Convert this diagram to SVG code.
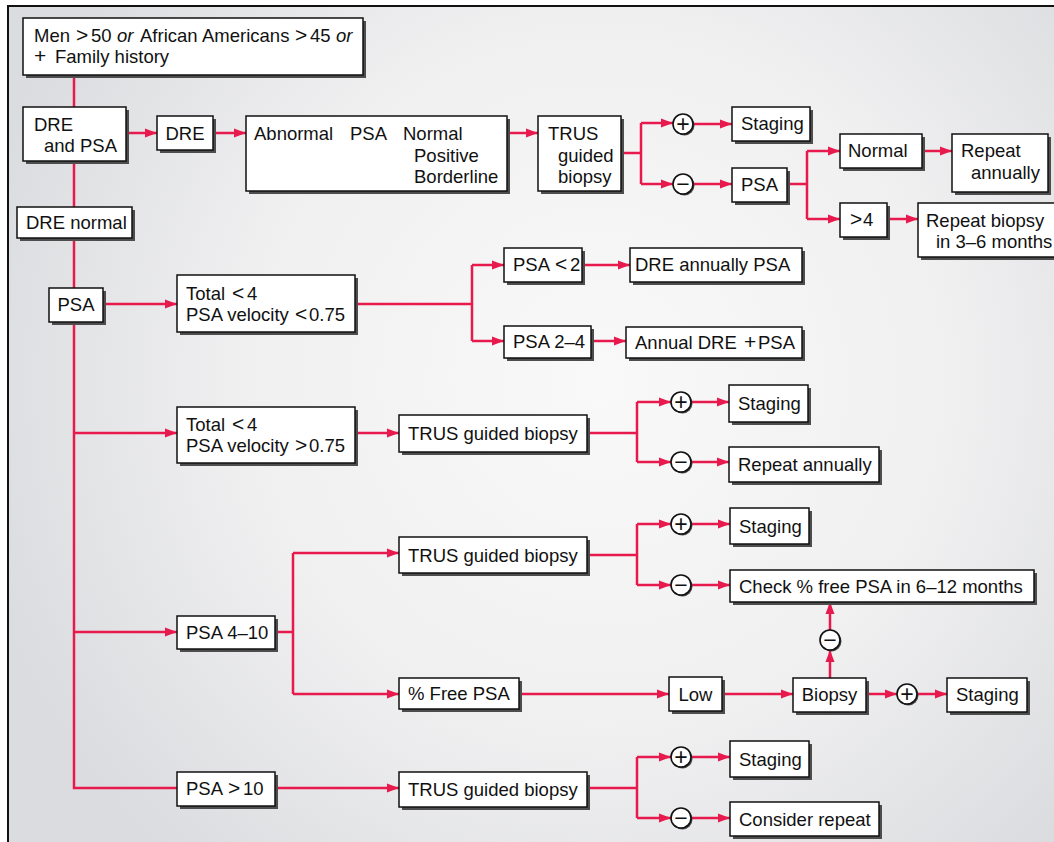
<svg xmlns="http://www.w3.org/2000/svg" width="1054" height="842" viewBox="0 0 1054 842">
  <defs>
    <radialGradient id="bg" gradientUnits="userSpaceOnUse" cx="600" cy="380" r="640">
      <stop offset="0" stop-color="#f9f9fa"/>
      <stop offset="0.55" stop-color="#f0f0f1"/>
      <stop offset="1" stop-color="#dbdcdf"/>
    </radialGradient>
    <marker id="ah" markerWidth="12" markerHeight="10" refX="12" refY="5" orient="auto" markerUnits="userSpaceOnUse">
      <path d="M0,0.5 L12,5 L0,9.5 z" fill="#e8194c"/>
    </marker>
    <style>
      .sh { fill: #4d4d4d; }
      .bx { fill: #ffffff; stroke: #111111; stroke-width: 1.5; }
      text { font-family: "Liberation Sans", Arial, Helvetica, sans-serif; font-size: 18.5px; fill: #111111; }
      .c { text-anchor: middle; }
      .it { font-style: italic; }
      .m { font-size: 21px; }
      .sg { font-size: 23px; text-anchor: middle; }
      .csh { fill: #4d4d4d; }
      .cir { fill: #ffffff; stroke: #111111; stroke-width: 1.6; }
      #connectors path { fill: none; stroke: #e8194c; stroke-width: 2.5; }
      #connectors .a { marker-end: url(#ah); }
    </style>
  </defs>

  <!-- panel -->
  <rect x="8" y="6" width="1070" height="860" fill="url(#bg)" stroke="#111111" stroke-width="2"/>

  <!-- connectors -->
  <g id="connectors">
    <path d="M74,75 V788 H177"/>
    <path class="a" d="M126,133 H157"/>
    <path class="a" d="M213,133 H246"/>
    <path class="a" d="M507,133 H538"/>
    <path d="M621,153 H641 M641,123 V184"/>
    <path class="a" d="M641,123 H673"/>
    <path class="a" d="M641,184 H673"/>
    <path class="a" d="M693,124 H732"/>
    <path class="a" d="M693,184 H732"/>
    <path d="M787,184 H807 M807,151 V219"/>
    <path class="a" d="M807,151 H840"/>
    <path class="a" d="M807,219 H840"/>
    <path class="a" d="M922,151 H952"/>
    <path class="a" d="M887,219 H918"/>

    <path class="a" d="M103,304 H177"/>
    <path d="M355,304 H472 M472,265 V341"/>
    <path class="a" d="M472,265 H504"/>
    <path class="a" d="M472,341 H504"/>
    <path class="a" d="M582,265 H630"/>
    <path class="a" d="M591,341 H626"/>

    <path class="a" d="M74,433 H177"/>
    <path class="a" d="M355,433 H399"/>
    <path d="M587,433 H637 M637,402 V462"/>
    <path class="a" d="M637,402 H671"/>
    <path class="a" d="M637,462 H671"/>
    <path class="a" d="M691,402 H729"/>
    <path class="a" d="M691,462 H729"/>

    <path class="a" d="M74,632 H177"/>
    <path d="M275,632 H293 M293,553 V694"/>
    <path class="a" d="M293,553 H399"/>
    <path class="a" d="M293,694 H399"/>
    <path d="M587,555 H637 M637,524 V585"/>
    <path class="a" d="M637,524 H671"/>
    <path class="a" d="M637,585 H671"/>
    <path class="a" d="M691,524 H730"/>
    <path class="a" d="M691,585 H730"/>
    <path class="a" d="M519,694 H669"/>
    <path class="a" d="M722,694 H793"/>
    <path class="a" d="M866,694 H897"/>
    <path class="a" d="M917,694 H947"/>
    <path class="a" d="M830,678 V650"/>
    <path class="a" d="M830,630 V602"/>

    <path class="a" d="M275,788 H399"/>
    <path d="M587,788 H637 M637,757 V818"/>
    <path class="a" d="M637,757 H671"/>
    <path class="a" d="M637,818 H671"/>
    <path class="a" d="M691,757 H730"/>
    <path class="a" d="M691,818 H730"/>
  </g>

  <!-- nodes -->
  <g id="risk-group">
    <rect class="sh" x="26" y="21" width="340" height="57"/>
    <rect class="bx" x="23" y="18" width="340" height="57"/>
    <text x="34" y="42">Men <tspan x="76" class="m">&gt;</tspan><tspan x="91">50</tspan><tspan x="117" class="it">or</tspan><tspan x="140">African</tspan><tspan x="202">Americans</tspan><tspan x="295" class="m">&gt;</tspan><tspan x="310">45</tspan><tspan x="336" class="it">or</tspan></text>
    <text x="34" y="63"><tspan class="m">+</tspan><tspan x="55">Family history</tspan></text>
  </g>
  <g id="dre-and-psa">
    <rect class="sh" x="26" y="110" width="103" height="54"/>
    <rect class="bx" x="23" y="107" width="103" height="54"/>
    <text x="34" y="131">DRE</text>
    <text x="44" y="152">and PSA</text>
  </g>
  <g id="dre">
    <rect class="sh" x="160" y="119" width="56" height="34"/>
    <rect class="bx" x="157" y="116" width="56" height="34"/>
    <text class="c" x="185" y="140">DRE</text>
  </g>
  <g id="dre-result">
    <rect class="sh" x="249" y="119" width="261" height="75"/>
    <rect class="bx" x="246" y="116" width="261" height="75"/>
    <text x="254" y="140">Abnormal</text>
    <text x="350" y="140">PSA</text>
    <text x="403" y="140">Normal</text>
    <text x="414" y="162">Positive</text>
    <text x="414" y="183">Borderline</text>
  </g>
  <g id="trus-1">
    <rect class="sh" x="541" y="119" width="83" height="75"/>
    <rect class="bx" x="538" y="116" width="83" height="75"/>
    <text x="548" y="140">TRUS</text>
    <text x="558" y="162">guided</text>
    <text x="558" y="183">biopsy</text>
  </g>
  <g id="pos-1">
    <circle class="csh" cx="684.5" cy="125.5" r="10"/>
    <circle class="cir" cx="683" cy="124" r="10"/>
    <text class="sg" x="683" y="132">+</text>
  </g>
  <g id="neg-1">
    <circle class="csh" cx="684.5" cy="185.5" r="10"/>
    <circle class="cir" cx="683" cy="184" r="10"/>
    <text class="sg" x="683" y="192">−</text>
  </g>
  <g id="staging-1">
    <rect class="sh" x="735" y="110" width="78" height="34"/>
    <rect class="bx" x="732" y="107" width="78" height="34"/>
    <text x="741" y="130">Staging</text>
  </g>
  <g id="psa-recheck">
    <rect class="sh" x="735" y="171" width="55" height="34"/>
    <rect class="bx" x="732" y="168" width="55" height="34"/>
    <text class="c" x="759.5" y="191">PSA</text>
  </g>
  <g id="psa-normal">
    <rect class="sh" x="843" y="137" width="82" height="34"/>
    <rect class="bx" x="840" y="134" width="82" height="34"/>
    <text x="848" y="157">Normal</text>
  </g>
  <g id="repeat-annually-1">
    <rect class="sh" x="955" y="137" width="96" height="58"/>
    <rect class="bx" x="952" y="134" width="96" height="58"/>
    <text x="961" y="157">Repeat</text>
    <text x="971" y="179">annually</text>
  </g>
  <g id="psa-gt4">
    <rect class="sh" x="843" y="206" width="47" height="34"/>
    <rect class="bx" x="840" y="203" width="47" height="34"/>
    <text x="850" y="226"><tspan class="m">&gt;</tspan><tspan x="863">4</tspan></text>
  </g>
  <g id="repeat-biopsy">
    <rect class="sh" x="921" y="206" width="140" height="54"/>
    <rect class="bx" x="918" y="203" width="140" height="54"/>
    <text x="926" y="227">Repeat biopsy</text>
    <text x="936" y="248">in 3–6 months</text>
  </g>
  <g id="dre-normal">
    <rect class="sh" x="20" y="210" width="115" height="31"/>
    <rect class="bx" x="17" y="207" width="115" height="31"/>
    <text x="26" y="229">DRE normal</text>
  </g>
  <g id="psa">
    <rect class="sh" x="52" y="291" width="54" height="34"/>
    <rect class="bx" x="49" y="288" width="54" height="34"/>
    <text class="c" x="76" y="311">PSA</text>
  </g>
  <g id="total-low-velocity">
    <rect class="sh" x="180" y="278" width="178" height="57"/>
    <rect class="bx" x="177" y="275" width="178" height="57"/>
    <text x="186" y="300">Total <tspan x="232" class="m">&lt;</tspan><tspan x="247">4</tspan></text>
    <text x="186" y="321">PSA velocity <tspan x="295" class="m">&lt;</tspan><tspan x="309">0.75</tspan></text>
  </g>
  <g id="psa-lt2">
    <rect class="sh" x="507" y="251" width="78" height="34"/>
    <rect class="bx" x="504" y="248" width="78" height="34"/>
    <text x="513" y="271">PSA <tspan x="555" class="m">&lt;</tspan><tspan x="570">2</tspan></text>
  </g>
  <g id="dre-annually">
    <rect class="sh" x="633" y="251" width="172" height="34"/>
    <rect class="bx" x="630" y="248" width="172" height="34"/>
    <text x="635" y="271">DRE annually PSA</text>
  </g>
  <g id="psa-2-4">
    <rect class="sh" x="507" y="329" width="87" height="32"/>
    <rect class="bx" x="504" y="326" width="87" height="32"/>
    <text x="513" y="348">PSA 2–4</text>
  </g>
  <g id="annual-dre-psa">
    <rect class="sh" x="629" y="330" width="176" height="31"/>
    <rect class="bx" x="626" y="327" width="176" height="31"/>
    <text x="635" y="349">Annual DRE <tspan x="744" class="m">+</tspan><tspan x="758">PSA</tspan></text>
  </g>
  <g id="total-high-velocity">
    <rect class="sh" x="180" y="410" width="178" height="56"/>
    <rect class="bx" x="177" y="407" width="178" height="56"/>
    <text x="186" y="431">Total <tspan x="232" class="m">&lt;</tspan><tspan x="247">4</tspan></text>
    <text x="186" y="452">PSA velocity <tspan x="295" class="m">&gt;</tspan><tspan x="309">0.75</tspan></text>
  </g>
  <g id="trus-2">
    <rect class="sh" x="402" y="418" width="188" height="37"/>
    <rect class="bx" x="399" y="415" width="188" height="37"/>
    <text x="408" y="440">TRUS guided biopsy</text>
  </g>
  <g id="pos-2">
    <circle class="csh" cx="682.5" cy="403.5" r="10"/>
    <circle class="cir" cx="681" cy="402" r="10"/>
    <text class="sg" x="681" y="410">+</text>
  </g>
  <g id="neg-2">
    <circle class="csh" cx="682.5" cy="463.5" r="10"/>
    <circle class="cir" cx="681" cy="462" r="10"/>
    <text class="sg" x="681" y="470">−</text>
  </g>
  <g id="staging-2">
    <rect class="sh" x="732" y="388" width="79" height="37"/>
    <rect class="bx" x="729" y="385" width="79" height="37"/>
    <text x="738" y="410">Staging</text>
  </g>
  <g id="repeat-annually-2">
    <rect class="sh" x="732" y="450" width="150" height="35"/>
    <rect class="bx" x="729" y="447" width="150" height="35"/>
    <text x="738" y="471">Repeat annually</text>
  </g>
  <g id="psa-4-10">
    <rect class="sh" x="180" y="619" width="98" height="33"/>
    <rect class="bx" x="177" y="616" width="98" height="33"/>
    <text x="186" y="639">PSA 4–10</text>
  </g>
  <g id="trus-3">
    <rect class="sh" x="402" y="540" width="188" height="36"/>
    <rect class="bx" x="399" y="537" width="188" height="36"/>
    <text x="408" y="562">TRUS guided biopsy</text>
  </g>
  <g id="pos-3">
    <circle class="csh" cx="682.5" cy="525.5" r="10"/>
    <circle class="cir" cx="681" cy="524" r="10"/>
    <text class="sg" x="681" y="532">+</text>
  </g>
  <g id="neg-3">
    <circle class="csh" cx="682.5" cy="586.5" r="10"/>
    <circle class="cir" cx="681" cy="585" r="10"/>
    <text class="sg" x="681" y="593">−</text>
  </g>
  <g id="staging-3">
    <rect class="sh" x="733" y="511" width="79" height="36"/>
    <rect class="bx" x="730" y="508" width="79" height="36"/>
    <text x="739" y="533">Staging</text>
  </g>
  <g id="check-free-psa">
    <rect class="sh" x="733" y="573" width="304" height="32"/>
    <rect class="bx" x="730" y="570" width="304" height="32"/>
    <text x="739" y="593">Check % free PSA in 6–12 months</text>
  </g>
  <g id="free-psa">
    <rect class="sh" x="402" y="681" width="120" height="31"/>
    <rect class="bx" x="399" y="678" width="120" height="31"/>
    <text x="408" y="700">% Free PSA</text>
  </g>
  <g id="low">
    <rect class="sh" x="672" y="680" width="53" height="34"/>
    <rect class="bx" x="669" y="677" width="53" height="34"/>
    <text class="c" x="695.5" y="701">Low</text>
  </g>
  <g id="biopsy">
    <rect class="sh" x="796" y="681" width="73" height="34"/>
    <rect class="bx" x="793" y="678" width="73" height="34"/>
    <text class="c" x="829.5" y="701">Biopsy</text>
  </g>
  <g id="neg-biopsy">
    <circle class="csh" cx="831.5" cy="641.5" r="10"/>
    <circle class="cir" cx="830" cy="640" r="10"/>
    <text class="sg" x="830" y="648">−</text>
  </g>
  <g id="pos-biopsy">
    <circle class="csh" cx="908.5" cy="695.5" r="10"/>
    <circle class="cir" cx="907" cy="694" r="10"/>
    <text class="sg" x="907" y="702">+</text>
  </g>
  <g id="staging-4">
    <rect class="sh" x="950" y="681" width="80" height="34"/>
    <rect class="bx" x="947" y="678" width="80" height="34"/>
    <text x="956" y="701">Staging</text>
  </g>
  <g id="psa-gt10">
    <rect class="sh" x="180" y="775" width="98" height="34"/>
    <rect class="bx" x="177" y="772" width="98" height="34"/>
    <text x="186" y="795">PSA <tspan x="228" class="m">&gt;</tspan><tspan x="243">10</tspan></text>
  </g>
  <g id="trus-4">
    <rect class="sh" x="402" y="775" width="188" height="35"/>
    <rect class="bx" x="399" y="772" width="188" height="35"/>
    <text x="408" y="796">TRUS guided biopsy</text>
  </g>
  <g id="pos-4">
    <circle class="csh" cx="682.5" cy="758.5" r="10"/>
    <circle class="cir" cx="681" cy="757" r="10"/>
    <text class="sg" x="681" y="765">+</text>
  </g>
  <g id="neg-4">
    <circle class="csh" cx="682.5" cy="819.5" r="10"/>
    <circle class="cir" cx="681" cy="818" r="10"/>
    <text class="sg" x="681" y="826">−</text>
  </g>
  <g id="staging-5">
    <rect class="sh" x="733" y="744" width="79" height="36"/>
    <rect class="bx" x="730" y="741" width="79" height="36"/>
    <text x="739" y="766">Staging</text>
  </g>
  <g id="consider-repeat">
    <rect class="sh" x="733" y="805" width="149" height="34"/>
    <rect class="bx" x="730" y="802" width="149" height="34"/>
    <text x="739" y="826">Consider repeat</text>
  </g>
</svg>
